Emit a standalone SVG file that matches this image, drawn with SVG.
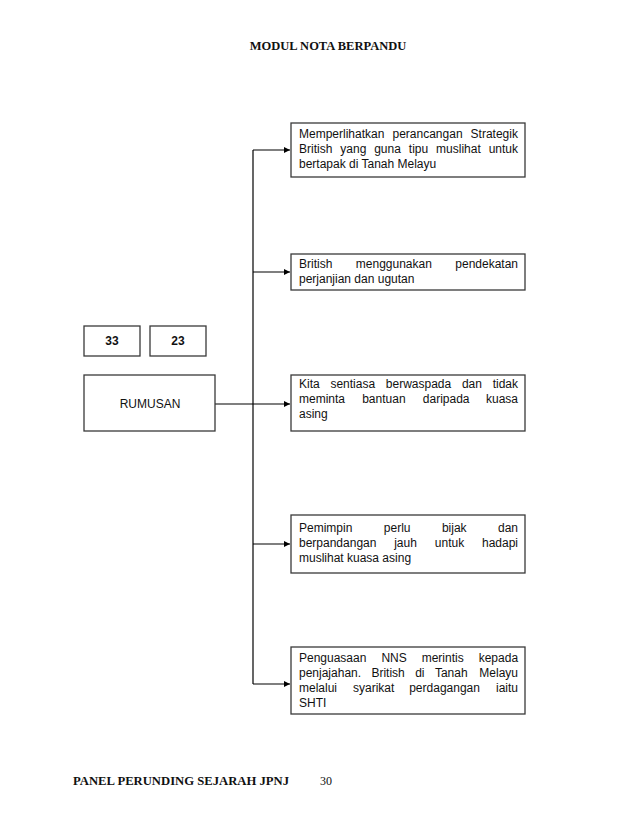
<svg xmlns="http://www.w3.org/2000/svg" width="638" height="826" viewBox="0 0 638 826">
<defs>
<style>
.box{fill:#fff;stroke:#3a3a3a;stroke-width:1.3}
.t{font-family:"Liberation Sans",Arial,sans-serif;font-size:12px;fill:#111}
.hd{font-family:"Liberation Serif","Times New Roman",serif;font-size:12px;font-weight:bold;fill:#111}
.ln{stroke:#000;stroke-width:1.2;fill:none}
</style>
<marker id="ah" viewBox="0 0 8 8" refX="8" refY="4" markerWidth="6" markerHeight="6" orient="auto" markerUnits="userSpaceOnUse">
<path d="M0,0 L8,4 L0,8 z" fill="#000"/>
</marker>
</defs>
<rect width="638" height="826" fill="#fff"/>
<text class="hd" x="328" y="50" text-anchor="middle" style="font-size:12.5px">MODUL NOTA BERPANDU</text>

<g id="connectors">
<line class="ln" x1="215" y1="404" x2="290" y2="404" marker-end="url(#ah)"/>
<line class="ln" x1="253" y1="150" x2="253" y2="684"/>
<line class="ln" x1="253" y1="150" x2="290" y2="150" marker-end="url(#ah)"/>
<line class="ln" x1="253" y1="272" x2="290" y2="272" marker-end="url(#ah)"/>
<line class="ln" x1="253" y1="544" x2="290" y2="544" marker-end="url(#ah)"/>
<line class="ln" x1="253" y1="684" x2="290" y2="684" marker-end="url(#ah)"/>
</g>

<g id="n33">
<rect class="box" x="84" y="326" width="56" height="30"/>
<text class="t" x="112" y="345" text-anchor="middle" font-weight="bold">33</text>
</g>
<g id="n23">
<rect class="box" x="150" y="326" width="56" height="30"/>
<text class="t" x="178" y="345" text-anchor="middle" font-weight="bold">23</text>
</g>
<g id="rumusan">
<rect class="box" x="84" y="375" width="131" height="56"/>
<text class="t" x="150" y="408" text-anchor="middle">RUMUSAN</text>
</g>

<g id="b1">
<rect class="box" x="291" y="123" width="234" height="54"/>
<text class="t" y="138"><tspan x="299">Memperlihatkan</tspan><tspan x="392.5">perancangan</tspan><tspan x="470.6">Strategik</tspan></text>
<text class="t" y="153"><tspan x="299">British</tspan><tspan x="340.3">yang</tspan><tspan x="374.2">guna</tspan><tspan x="408.8">tipu</tspan><tspan x="436.1">muslihat</tspan><tspan x="488.7">untuk</tspan></text>
<text class="t" x="299" y="168">bertapak di Tanah Melayu</text>
</g>
<g id="b2">
<rect class="box" x="291" y="254" width="234" height="36"/>
<text class="t" y="268"><tspan x="299">British</tspan><tspan x="355.8">menggunakan</tspan><tspan x="455.3">pendekatan</tspan></text>
<text class="t" x="299" y="283">perjanjian dan ugutan</text>
</g>
<g id="b3">
<rect class="box" x="291" y="375" width="234" height="56"/>
<text class="t" y="388"><tspan x="299">Kita</tspan><tspan x="330.4">sentiasa</tspan><tspan x="385.8">berwaspada</tspan><tspan x="461.9">dan</tspan><tspan x="492.7">tidak</tspan></text>
<text class="t" y="403"><tspan x="299">meminta</tspan><tspan x="362.2">bantuan</tspan><tspan x="422.8">daripada</tspan><tspan x="486">kuasa</tspan></text>
<text class="t" x="299" y="418">asing</text>
</g>
<g id="b4">
<rect class="box" x="291" y="515" width="234" height="58"/>
<text class="t" y="532"><tspan x="299">Pemimpin</tspan><tspan x="383.8">perlu</tspan><tspan x="441.9">bijak</tspan><tspan x="498">dan</tspan></text>
<text class="t" y="547"><tspan x="299">berpandangan</tspan><tspan x="394.2">jauh</tspan><tspan x="434.8">untuk</tspan><tspan x="482">hadapi</tspan></text>
<text class="t" x="299" y="562">muslihat kuasa asing</text>
</g>
<g id="b5">
<rect class="box" x="291" y="647" width="234" height="67"/>
<text class="t" y="662"><tspan x="299">Penguasaan</tspan><tspan x="381.4">NNS</tspan><tspan x="421.7">merintis</tspan><tspan x="478.7">kepada</tspan></text>
<text class="t" y="677"><tspan x="299">penjajahan.</tspan><tspan x="371.4">British</tspan><tspan x="415.2">di</tspan><tspan x="434.9">Tanah</tspan><tspan x="479.3">Melayu</tspan></text>
<text class="t" y="692"><tspan x="299">melalui</tspan><tspan x="353">syarikat</tspan><tspan x="409.2">perdagangan</tspan><tspan x="496">iaitu</tspan></text>
<text class="t" x="299" y="707">SHTI</text>
</g>

<text class="hd" x="73" y="785" textLength="216" lengthAdjust="spacingAndGlyphs">PANEL PERUNDING SEJARAH JPNJ</text>
<text class="hd" x="320" y="785" style="font-weight:normal">30</text>
</svg>
